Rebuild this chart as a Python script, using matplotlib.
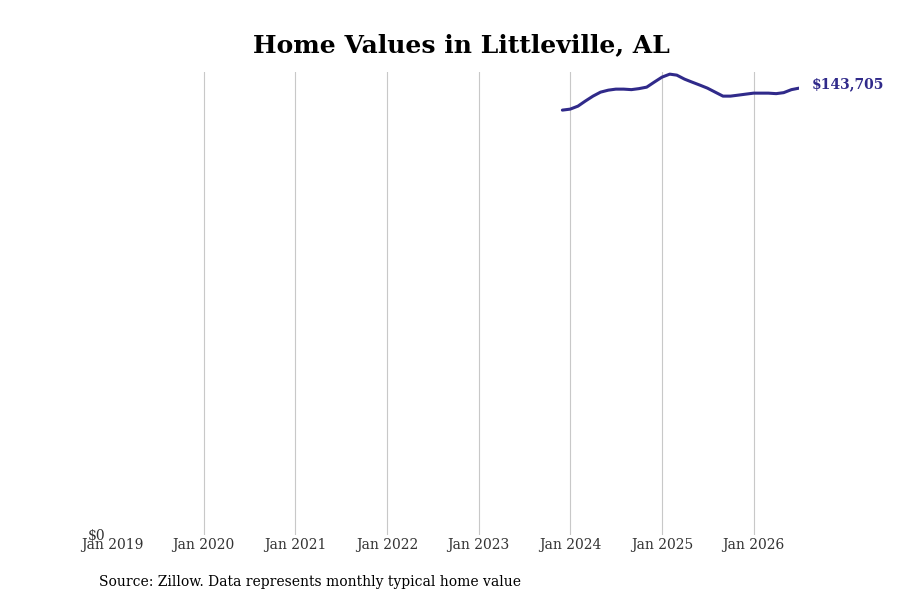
import matplotlib
matplotlib.use("Agg")
import matplotlib.pyplot as plt
import pandas as pd

months = pd.date_range("2023-12-01", "2026-07-01", freq="MS")
values = [136640, 136960, 137920, 139530, 141140, 142420, 143060, 143390,
          143390, 143230, 143550, 144030, 145640, 147250, 148210, 147890,
          146600, 145640, 144680, 143710, 142420, 141140, 141140, 141460,
          141780, 142100, 142100, 142100, 141940, 142260, 143230, 143705]
tick_years = list(range(2019, 2027))
title = "Home Values in Littleville, AL"
source = "Source: Zillow. Data represents monthly typical home value"
color = "#302a8a"

plt.rcParams['font.family'] = ['DejaVu Serif']
fig = plt.figure(figsize=(9, 6), dpi=100)
ax = fig.add_axes([112/900, 65/600, 687/900, 463/600])
ax.plot(months, values, color=color, lw=2.2, solid_capstyle='round')
ax.set_xlim(pd.Timestamp("2019-01-01"), pd.Timestamp("2026-07-01"))
ax.set_ylim(0, 148900)
ax.set_xticks([pd.Timestamp(f"{y}-01-01") for y in tick_years])
ax.set_xticklabels([f"Jan {y}" for y in tick_years], fontsize=10, color="#333333")
ax.set_yticks([0])
ax.set_yticklabels(["$0"], fontsize=10, color="#333333")
ax.tick_params(length=0, pad=2)
ax.tick_params(axis='y', pad=5)
ax.grid(axis='x', color="#c8c8c8", lw=0.8)
ax.xaxis.get_gridlines()[0].set_visible(False)
ax.set_axisbelow(True)
for s in ax.spines.values():
    s.set_visible(False)
ax.annotate(f"${values[-1]:,}", xy=(months[-1], values[-1]), xytext=(9, 3),
            textcoords='offset points', color=color, fontsize=10,
            fontweight='bold', va='center', ha='left')
fig.text(461/900, 1 - 45/600, title, ha='center', va='center', fontsize=18, fontweight='bold')
fig.text(99/900, 1 - 582/600, source, ha='left', va='center', fontsize=10)
fig.savefig("out.png", dpi=100)
